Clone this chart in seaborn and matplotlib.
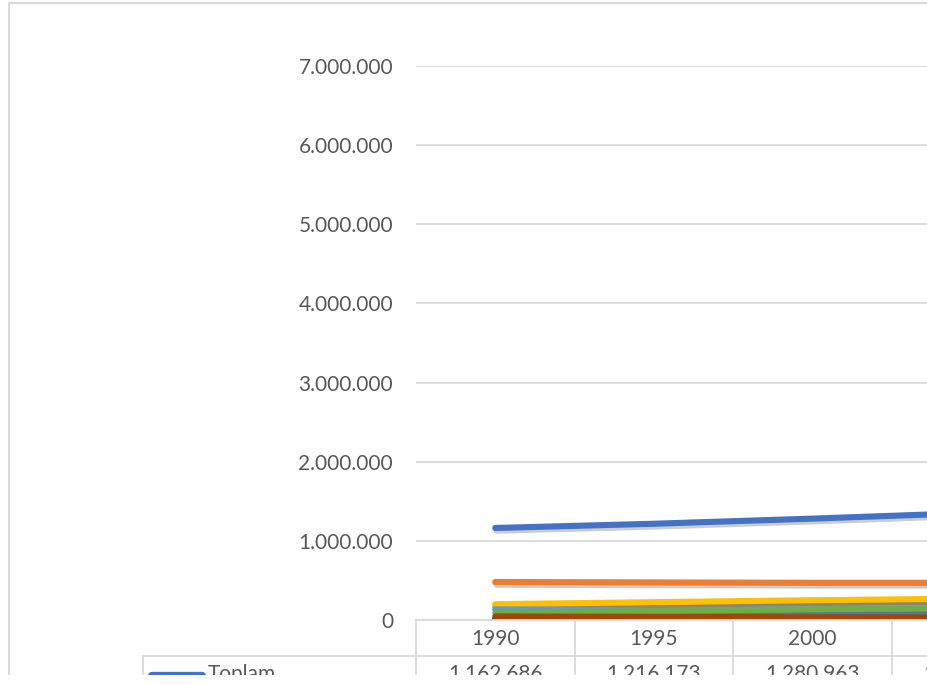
import matplotlib
matplotlib.use("Agg")
import matplotlib.pyplot as plt
import matplotlib.patheffects as pe
import matplotlib.transforms as mtransforms
from matplotlib.lines import Line2D
from matplotlib.patches import Rectangle
import seaborn as sns
import pandas as pd

# ---- data ----
years = ["1990", "1995", "2000", "2005"]
toplam = [1162686, 1216173, 1280963, 1352000]
seri_turuncu = [480000, 475000, 470000, 470000]
seri_gri = [165000, 180000, 195000, 210000]
seri_sari = [200000, 225000, 250000, 270000]
seri_acik_mavi = [135000, 120000, 105000, 90000]
seri_yesil = [90000, 115000, 135000, 150000]
seri_koyu_mavi = [12000, 12000, 12000, 12000]
seri_kahve = [45000, 40000, 35000, 35000]

series_names = ["Toplam", "Seri 2", "Seri 3", "Seri 4", "Seri 5", "Seri 6", "Seri 7", "Seri 8"]
series_values = [toplam, seri_turuncu, seri_gri, seri_sari, seri_acik_mavi,
                 seri_yesil, seri_koyu_mavi, seri_kahve]
colors = ["#4472C4", "#ED7D31", "#A5A5A5", "#FFC000", "#5B9BD5",
          "#70AD47", "#264478", "#9E480E"]
y_ticks = [0, 1000000, 2000000, 3000000, 4000000, 5000000, 6000000, 7000000]

rows = []
for name, vals in zip(series_names, series_values):
    for i, (yr, v) in enumerate(zip(years, vals)):
        rows.append({"idx": i, "Yil": yr, "Deger": v, "Seri": name})
df = pd.DataFrame(rows)

def fmt(v):
    return f"{v:,.0f}".replace(",", ".")

sns.set_theme(style="white")
plt.rcParams["font.family"] = ["Lato", "DejaVu Sans"]
TXT = "#595959"
GRID = "#D9D9D9"

W, H = 928, 684
fig = plt.figure(figsize=(W / 100, H / 100), dpi=100)
fig.patch.set_facecolor("white")

col_w = 158.5
x0 = 416
y0 = 620
y7 = 66
ax = fig.add_axes([x0 / W, (H - y0) / H, len(years) * col_w / W, (y0 - y7) / H])

sns.lineplot(data=df, x="idx", y="Deger", hue="Seri", hue_order=series_names,
             palette=dict(zip(series_names, colors)), linewidth=4.4, sort=False,
             legend=False, ax=ax)
for ln in ax.lines:
    ln.set_solid_capstyle("round")
    ln.set_path_effects([pe.SimpleLineShadow(offset=(1.0, -2.0), shadow_color="black", alpha=0.2),
                         pe.Normal()])

ax.set_xlim(-0.5, len(years) - 0.5)
ax.set_ylim(0, 7000000)
ax.set_yticks(y_ticks)
ax.set_yticklabels([fmt(v) for v in y_ticks])
ax.set_xticks(range(len(years)))
ax.set_xticklabels(years)
ax.tick_params(axis="y", length=0, pad=16.5, labelsize=15, labelcolor=TXT)
ax.tick_params(axis="x", length=0, pad=6.5, labelsize=15, labelcolor=TXT)
ax.set_xlabel("")
ax.set_ylabel("")
ax.grid(axis="y", color=GRID, linewidth=1.3)
ax.grid(axis="x", visible=False)
for s in ["top", "right", "left"]:
    ax.spines[s].set_visible(False)
ax.spines["bottom"].set_color(GRID)
ax.spines["bottom"].set_linewidth(1.3)

# data table grid
for b in [i - 0.5 for i in range(len(years) + 1)]:
    ax.plot([b, b], [0, -0.3], transform=ax.get_xaxis_transform(), color=GRID,
            linewidth=1.3, clip_on=False)
fig.add_artist(Line2D([143 / W, 1.2], [(H - 656) / H] * 2, color=GRID, linewidth=1.3))
fig.add_artist(Line2D([143 / W, 143 / W], [(H - 656) / H, -0.1], color=GRID, linewidth=1.3))

# table row: Toplam
row_y = (H - 674) / H
fig.add_artist(Line2D([152 / W, 202 / W], [(H - 676) / H] * 2, color=colors[0],
                      linewidth=6, solid_capstyle="round"))
fig.text(208 / W, row_y, "Toplam", fontsize=15, color=TXT, va="center", ha="left")
blend = mtransforms.blended_transform_factory(ax.transData, fig.transFigure)
for i, v in enumerate(toplam):
    ax.text(i, row_y, fmt(v), transform=blend,
            fontsize=15, color=TXT, ha="center", va="center", clip_on=False)

# chart border
fig.add_artist(Rectangle((9 / W, -0.1), 1.2, (H - 3) / H + 0.1, fill=False,
                         edgecolor=GRID, linewidth=1.5))

# the reference picture is cut off below y = 675 px
fig.add_artist(Rectangle((0, 0), 1, (H - 675) / H, facecolor="white",
                         edgecolor="none", zorder=100))

fig.savefig("out.png", dpi=100)
